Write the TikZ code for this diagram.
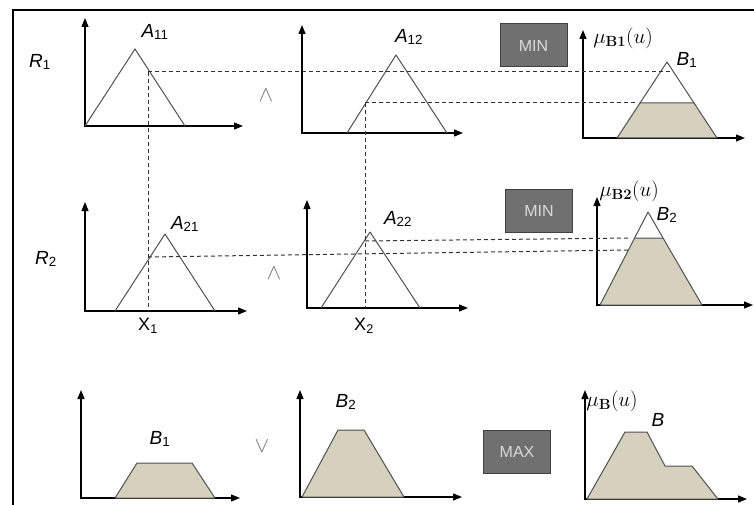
\documentclass[tikz,border=0pt]{standalone}
\usepackage{fix-cm}
\usepackage[no-math]{fontspec}
\setmainfont{Liberation Sans}
\usetikzlibrary{arrows.meta}
\definecolor{beige}{RGB}{214,208,191}
\definecolor{boxgray}{RGB}{112,112,112}
\definecolor{edgegray}{RGB}{80,80,80}
\tikzset{
 axis/.style={line width=1.3pt, black, {Triangle[length=9pt,width=7pt]}-{Triangle[length=9pt,width=7pt]}},
 mf/.style={line width=1pt, edgegray, line join=round},
 cut/.style={line width=1pt, edgegray, fill=beige, line join=round},
 guide/.style={dash pattern=on 4pt off 3pt, line width=1pt, black!80},
 lab/.style={font=\fontsize{19}{21}\selectfont\itshape, inner sep=0pt},
 xlab/.style={font=\fontsize{18}{20}\selectfont, inner sep=0pt},
 mulab/.style={font=\fontsize{21}{23}\selectfont, inner sep=0pt},
 oplab/.style={font=\fontsize{22}{24}\selectfont, black!55, inner sep=0pt},
 opbox/.style={draw=black!75, fill=boxgray, line width=1pt, text=white!85!black, font=\fontsize{16}{18}\selectfont, minimum width=67pt, minimum height=43pt, inner sep=0pt},
}
\newcommand\fzaxes[4]{\draw[axis] (#1,#3) -- (#1,#2) -- (#4,#2);}
\newcommand\mysb[1]{\textsubscript{\upshape #1}}
\begin{document}
\begin{tikzpicture}[x=1pt,y=-1pt]
\useasboundingbox (0,0) rectangle (754,505);
% frame (left and top edges)
\draw[line width=2pt] (13,505) -- (13,10) -- (754,10);

% ---------- row 1 ----------
\fzaxes{85}{126}{18}{243}
\draw[mf] (85,126) -- (135,49) -- (185,126);
\fzaxes{302}{133}{25}{463}
\draw[mf] (347,133) -- (396,55) -- (447,133);
\fzaxes{583}{138}{30}{745}
\draw[cut] (617,138) -- (640,103) -- (694,103) -- (717,138) -- cycle;
\draw[mf] (640,103) -- (667,62) -- (694,103);

% ---------- row 2 ----------
\fzaxes{85}{311}{202}{247}
\draw[mf] (115,311) -- (165,234) -- (215,311);
\fzaxes{307}{308}{200}{468}
\draw[mf] (321,308) -- (370,232) -- (420,308);
\fzaxes{597}{305}{197}{753}
\draw[cut] (600,305) -- (634.6,238) -- (663,238) -- (702,305) -- cycle;
\draw[mf] (634.6,238) -- (648,212) -- (663,238);

% ---------- row 3 ----------
\fzaxes{81}{498}{390}{240}
\draw[cut] (115,498) -- (137,463) -- (192,463) -- (215,498) -- cycle;
\fzaxes{300}{497}{390}{462}
\draw[cut] (302,497) -- (338,430) -- (364,430) -- (404,497) -- cycle;
\fzaxes{585}{499}{390}{747}
\draw[cut] (587,499) -- (625,432) -- (647,432) -- (665,466) -- (692,466) -- (718,499) -- cycle;

% ---------- guide coordinates ----------
\coordinate (c11) at (148,72);
\coordinate (c11b) at (148,311);
\coordinate (c11r) at (672,72);
\coordinate (c12) at (365,103);
\coordinate (c12b) at (365,308);
\coordinate (c12r) at (638,103);
\coordinate (c21) at (148,257);
\coordinate (c21r) at (628,250);
\coordinate (c22) at (365,241);
\coordinate (c22r) at (631,238);
\draw[guide] (c11) -- (c11b);
\draw[guide] (c11) -- (c11r);
\draw[guide] (c12) -- (c12b);
\draw[guide] (c12) -- (c12r);
\draw[guide] (c21) -- (c21r);
\draw[guide] (c22) -- (c22r);

% ---------- labels ----------
\node[lab] (r1) at (40,62) {R\mysb{1}};
\node[lab] (a11) at (155,32) {A\mysb{11}};
\node[lab] (a12) at (409,37) {A\mysb{12}};
\node[oplab] (and1) at (266,95) {$\wedge$};
\node[opbox] (min1) at (533.5,45.5) {MIN};
\node[mulab] (mu1) at (623,38) {$\mu_{\mathbf{B1}}(u)$};
\node[lab] (b1) at (687,60) {B\mysb{1}};

\node[lab] (r2) at (46,259) {R\mysb{2}};
\node[lab] (a21) at (185,224) {A\mysb{21}};
\node[xlab] (x1) at (148,326) {X\mysb{1}};
\node[lab] (a22) at (398,219) {A\mysb{22}};
\node[oplab] (and2) at (274,273) {$\wedge$};
\node[xlab] (x2) at (364,326) {X\mysb{2}};
\node[opbox] (min2) at (539,210.5) {MIN};
\node[mulab] (mu2) at (629,191) {$\mu_{\mathbf{B2}}(u)$};
\node[lab] (b2) at (667,215) {B\mysb{2}};

\node[lab] (b1c) at (160,439) {B\mysb{1}};
\node[oplab] (or1) at (262,446) {$\vee$};
\node[lab] (b2c) at (346,402) {B\mysb{2}};
\node[opbox] (max1) at (517,451.5) {MAX};
\node[mulab] (mu3) at (612,401) {$\mu_{\mathbf{B}}(u)$};
\node[lab] (bc) at (658,420) {B};
\end{tikzpicture}
\end{document}
